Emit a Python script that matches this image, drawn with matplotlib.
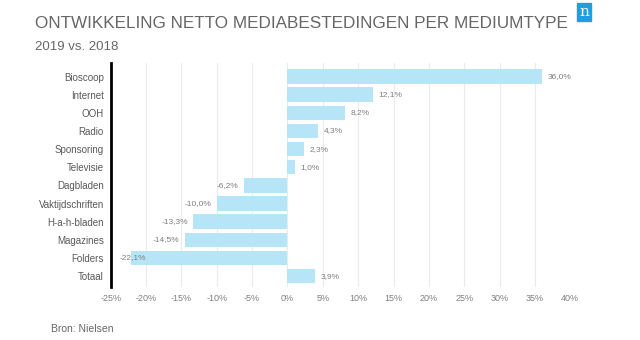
import matplotlib.pyplot as plt
from matplotlib.patches import Rectangle

plt.rcParams['font.family'] = ['Liberation Sans', 'DejaVu Sans']

# netto mediabestedingen, % verandering 2019 t.o.v. 2018
categories = ['Bioscoop', 'Internet', 'OOH', 'Radio', 'Sponsoring', 'Televisie',
              'Dagbladen', 'Vaktijdschriften', 'H-a-h-bladen', 'Magazines',
              'Folders', 'Totaal']
changes = [36.0, 12.1, 8.2, 4.3, 2.3, 1.0, -6.2, -10.0, -13.3, -14.5, -22.1, 3.9]
xticks = [-25, -20, -15, -10, -5, 0, 5, 10, 15, 20, 25, 30, 35, 40]

bar_color = '#b5e5f6'
text_gray = '#7f7f7f'

fig = plt.figure(figsize=(6.4, 3.4), dpi=100)
ax = fig.add_axes([0.173, 0.156, 0.718, 0.659])

ypos = list(range(len(categories)))
ax.barh(ypos, changes, height=0.8, color=bar_color, zorder=2)

for y, v in zip(ypos, changes):
    label = f'{v:.1f}%'.replace('.', ',')
    if v >= 0:
        ax.text(v + 0.8, y, label, va='center', ha='left', fontsize=6, color=text_gray, zorder=3)
    elif v < -20:
        # no room left of the bar: put the label just inside the axis
        ax.text(-23.7, y, label, va='center', ha='left', fontsize=6, color=text_gray, zorder=3)
    else:
        ax.text(v - 0.8, y, label, va='center', ha='right', fontsize=6, color=text_gray, zorder=3)

ax.set_xlim(-25, 40)
ax.set_ylim(11.6, -0.75)
ax.set_yticks(ypos)
ax.set_yticklabels(categories, fontsize=7, color='#595959')
ax.set_xticks(xticks)
ax.set_xticklabels([f'{t}%' for t in xticks], fontsize=6.5, color=text_gray)
ax.tick_params(length=0, pad=5)
ax.grid(axis='x', color='#ebebeb', linewidth=0.8, zorder=0)
for side in ['top', 'right', 'bottom']:
    ax.spines[side].set_visible(False)
ax.spines['left'].set_linewidth(2)
ax.spines['left'].set_color('black')

fig.text(0.055, 0.918, 'ONTWIKKELING NETTO MEDIABESTEDINGEN PER MEDIUMTYPE',
         fontsize=12.3, color='#666666')
fig.text(0.055, 0.852, '2019 vs. 2018', fontsize=9.5, color='#666666')
fig.text(0.08, 0.025, 'Bron: Nielsen', fontsize=7.5, color='#666666')

# logo
fig.patches.append(Rectangle((577 / 640, 1 - 21 / 340), 14 / 640, 18 / 340,
                             transform=fig.transFigure, color='#1ea0e0'))
fig.text(584 / 640, 1 - 12.5 / 340, 'n', fontsize=11, color='white',
         family='DejaVu Serif', ha='center', va='center')

fig.savefig('out.png', dpi=100)
